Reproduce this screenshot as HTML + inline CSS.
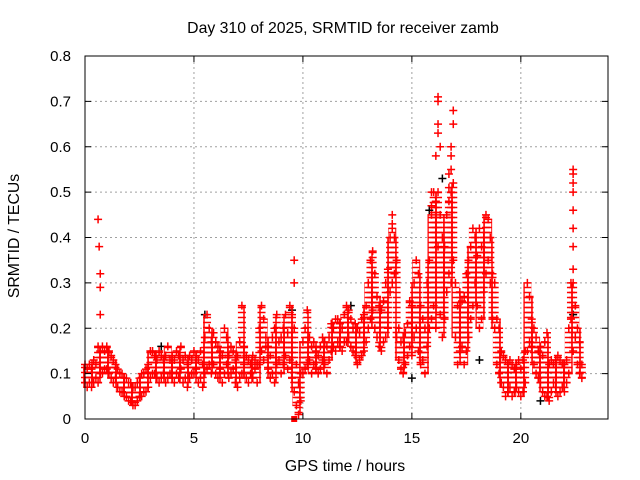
<!DOCTYPE html>
<html><head><meta charset="utf-8"><style>
body{margin:0;background:#fff}
svg{display:block;font-family:"Liberation Sans",sans-serif}
</style></head><body>
<svg id="chart" width="640" height="480" viewBox="0 0 640 480">
<defs>
<pattern id="plusfill" patternUnits="userSpaceOnUse" width="8" height="5" x="0" y="0">
<path d="M0,2.5H8M4,0V5" stroke="#ff0000" stroke-width="1.5" fill="none"/>
</pattern>
</defs>
<rect width="640" height="480" fill="#fff"/>
<text x="343" y="33" font-size="15.8" text-anchor="middle">Day 310 of 2025, SRMTID for receiver zamb</text>
<text x="345" y="471" font-size="15.8" text-anchor="middle">GPS time / hours</text>
<text transform="translate(19,236) rotate(-90)" font-size="15.8" text-anchor="middle">SRMTID / TECUs</text>
<g id="grid"></g>
<g id="marks"></g>
<rect x="85" y="56" width="523" height="363" fill="none" stroke="#000" stroke-width="1"/>
<g id="axes"></g>
</svg>
<script>
const xTicks=[0,5,10,15,20];
const yTicks=[0,0.1,0.2,0.3,0.4,0.5,0.6,0.7,0.8];
const yTickLabels=["0","0.1","0.2","0.3","0.4","0.5","0.6","0.7","0.8"];
const tStart=0, tStep=0.1;
const lo=[.08,.07,.08,.07,.08,.09,.08,.10,.10,.11,
.11,.10,.09,.08,.09,.07,.06,.06,.05,.05,
.04,.04,.03,.03,.04,.05,.05,.06,.06,.07,
.09,.10,.10,.09,.08,.09,.10,.08,.09,.10,
.09,.08,.10,.09,.11,.08,.09,.07,.09,.10,
.10,.11,.08,.09,.07,.10,.11,.12,.10,.12,
.10,.09,.11,.08,.10,.12,.09,.10,.11,.08,
.07,.09,.10,.12,.09,.08,.10,.09,.11,.08,
.12,.15,.13,.16,.11,.09,.10,.08,.12,.13,
.10,.12,.14,.11,.13,.09,.06,.03,.01,.04,
.10,.11,.12,.13,.10,.12,.11,.10,.11,.13,
.12,.10,.13,.15,.16,.15,.17,.16,.15,.17,
.17,.18,.16,.15,.14,.12,.13,.14,.15,.17,
.20,.22,.24,.20,.18,.16,.15,.17,.18,.20,
.28,.30,.32,.18,.13,.11,.10,.12,.14,.16,
.14,.18,.20,.15,.12,.13,.10,.16,.20,.22,
.25,.20,.38,.23,.18,.22,.28,.32,.30,.35,
.18,.12,.15,.16,.12,.15,.18,.22,.25,.30,
.25,.20,.22,.28,.32,.35,.30,.22,.20,.12,
.10,.08,.07,.05,.06,.07,.05,.06,.07,.06,
.05,.06,.08,.15,.17,.16,.12,.10,.09,.08,
.06,.05,.05,.04,.06,.08,.07,.05,.06,.07,
.06,.08,.10,.22,.15,.18,.12,.10,.09];
const hi=[.12,.11,.12,.11,.13,.12,.16,.15,.16,.15,
.16,.15,.14,.13,.12,.11,.10,.10,.09,.09,
.08,.08,.07,.07,.08,.09,.10,.10,.11,.12,
.15,.15,.14,.13,.15,.14,.13,.14,.16,.13,
.14,.13,.15,.14,.16,.13,.14,.12,.14,.13,
.15,.14,.13,.15,.12,.18,.23,.20,.17,.19,
.17,.16,.15,.14,.20,.18,.14,.16,.15,.13,
.14,.17,.25,.16,.14,.13,.12,.14,.13,.12,
.20,.25,.22,.18,.16,.14,.18,.20,.23,.17,
.18,.20,.23,.19,.25,.23,.20,.12,.08,.10,
.17,.20,.24,.18,.16,.17,.15,.14,.16,.18,
.17,.16,.18,.21,.20,.22,.22,.21,.20,.23,
.25,.24,.22,.20,.21,.20,.19,.22,.23,.25,
.30,.35,.37,.32,.27,.25,.24,.26,.30,.33,
.40,.42,.40,.35,.20,.17,.18,.19,.21,.26,
.25,.30,.35,.32,.25,.22,.20,.30,.35,.45,
.50,.48,.50,.45,.40,.38,.45,.48,.50,.52,
.30,.25,.28,.26,.27,.32,.35,.38,.42,.40,
.36,.42,.38,.40,.45,.44,.40,.32,.30,.22,
.20,.15,.14,.13,.12,.13,.12,.11,.12,.13,
.11,.13,.15,.30,.27,.22,.20,.18,.15,.16,
.14,.17,.19,.12,.13,.12,.13,.14,.13,.12,
.12,.13,.20,.30,.30,.25,.20,.17,.12];
const spikeT=[0.6,0.65,0.7,0.7,0.7,9.6,9.6,16.2,16.2,16.2,16.2,16.3,16.1,16.9,16.9,16.8,16.8,16.8,16.7,16.7,22.4,22.4,22.4,22.4,22.4,22.4,22.4,22.4,14.1,14.1,15.9,15.9];
const spikeV=[.44,.38,.32,.29,.23,.35,.30,.71,.70,.65,.63,.60,.58,.68,.65,.60,.58,.55,.54,.51,.55,.54,.52,.50,.46,.42,.38,.33,.45,.43,.50,.47];
const blackT=[9.5,15.0,15.8,16.4,20.9,22.4,5.5,3.5,12.2,18.1];
const blackV=[.24,.09,.46,.53,.04,.23,.23,.16,.25,.13];
const zeroT=[9.6];const zeroV=[0];

const X0=85,X1=608,Y0=419,Y1=56,xMax=24,yMax=0.8;
const xs=t=>X0+(X1-X0)*t/xMax;
const ys=v=>Y0-(Y0-Y1)*v/yMax;
const NS="http://www.w3.org/2000/svg";
function mk(tag,attrs,parent){const e=document.createElementNS(NS,tag);for(const k in attrs)e.setAttribute(k,attrs[k]);parent.appendChild(e);return e;}
const grid=document.getElementById('grid'),axes=document.getElementById('axes'),marks=document.getElementById('marks');
xTicks.forEach(t=>{
 const x=xs(t);
 if(t>0){const g=mk('line',{x1:x,x2:x,y1:Y0,y2:Y1,stroke:'#a0a0a0','stroke-dasharray':'2,3'},grid);
 
 }
 mk('line',{x1:x,x2:x,y1:Y0,y2:Y0-6,stroke:'#000'},axes);
 mk('line',{x1:x,x2:x,y1:Y1,y2:Y1+6,stroke:'#000'},axes);
 const l=mk('text',{x:x,y:Y0+24,'font-size':15,'text-anchor':'middle'},axes);l.textContent=t;
 
 
});
yTicks.forEach((v,i)=>{
 const y=ys(v);
 if(v>0&&v<yMax){const g=mk('line',{x1:X0,x2:X1,y1:y,y2:y,stroke:'#a0a0a0','stroke-dasharray':'2,3'},grid);
 
 }
 mk('line',{x1:X0,x2:X0+6,y1:y,y2:y,stroke:'#000'},axes);
 mk('line',{x1:X1,x2:X1-6,y1:y,y2:y,stroke:'#000'},axes);
 const l=mk('text',{x:X0-14,y:y+5,'font-size':15,'text-anchor':'end'},axes);l.textContent=yTickLabels[i];
 
 
});
function plus(t,v,col){const x=xs(t),y=ys(v);
 const p=mk('path',{d:`M${x-4},${y}H${x+4}M${x},${y-4}V${y+4}`,stroke:col,'stroke-width':1.5,fill:'none'},marks);
 
 }
blackT.forEach((t,i)=>plus(t,blackV[i],'#000'));
lo.forEach((v,i)=>{const t=tStart+i*tStep;
 const x=xs(t),yTop=ys(hi[i]),yBot=ys(v);
 const r=mk('rect',{x:x-4,y:yTop,width:8,height:Math.max(0,yBot-yTop),fill:'url(#plusfill)',transform:`translate(0,0)`},marks);
 
 
 plus(t,v,'#ff0000');plus(t,hi[i],'#ff0000');});
spikeT.forEach((t,i)=>plus(t,spikeV[i],'#ff0000'));
zeroT.forEach((t,i)=>{const s=mk('rect',{x:xs(t)-3,y:ys(zeroV[i])-3,width:6,height:6,fill:'#ff0000'},marks);
 
 });
</script>
</body></html>
